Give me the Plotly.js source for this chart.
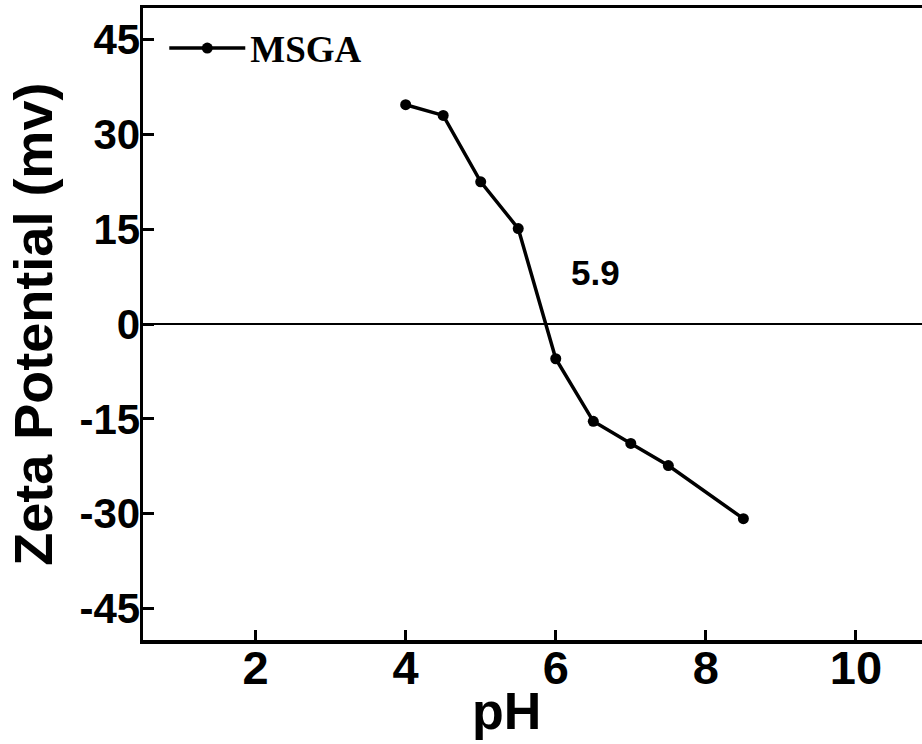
<!DOCTYPE html>
<html>
<head>
<meta charset="utf-8">
<script src="https://cdn.plot.ly/plotly-3.0.1.min.js"></script>
<style>
html,body{margin:0;padding:0;background:#fff;overflow:hidden;width:922px;height:744px;}
#chart{width:931px;height:744px;}
</style>
</head>
<body>
<div id="chart"></div>
<script>
// Data
var seriesName = "MSGA";
var pH = [4.0, 4.5, 5.0, 5.5, 6.0, 6.5, 7.0, 7.5, 8.5];
var zeta = [34.7, 33.0, 22.5, 15.1, -5.5, -15.4, -18.9, -22.4, -30.8];
var xTicks = [2, 4, 6, 8, 10];
var yTicks = [-45, -30, -15, 0, 15, 30, 45];
var pzcLabel = "5.9";
var pzcLabelPos = [6.53, 8.2];
var xTitle = "pH";
var yTitle = "Zeta Potential (mv)";

var trace = {
  x: pH, y: zeta, name: seriesName,
  type: "scatter", mode: "lines+markers",
  line: {color: "#000", width: 3.5},
  marker: {color: "#000", size: 11, symbol: "circle"}
};

var layout = {
  width: 931, height: 744,
  margin: {l: 143, r: 0, t: 8, b: 104},
  paper_bgcolor: "#fff", plot_bgcolor: "#fff",
  showlegend: true,
  legend: {
    x: 0.027, y: 0.985, xanchor: "left", yanchor: "top",
    itemwidth: 76,
    bgcolor: "rgba(0,0,0,0)",
    font: {family: "Liberation Serif", size: 37, color: "#000", weight: "bold"}
  },
  xaxis: {
    range: [0.5, 11], tickvals: xTicks, ticktext: xTicks.map(String),
    ticks: "inside", ticklen: 10, tickwidth: 3, tickcolor: "#000",
    ticklabelstandoff: -16,
    showline: true, linewidth: 3.5, linecolor: "#000", mirror: true,
    showgrid: false, zeroline: false,
    tickfont: {family: "Liberation Sans", size: 47, color: "#000", weight: "bold"}
  },
  yaxis: {
    range: [-50, 50], tickvals: yTicks, ticktext: yTicks.map(String),
    ticks: "inside", ticklen: 11, tickwidth: 3, tickcolor: "#000",
    ticklabelstandoff: -9,
    showline: true, linewidth: 3.5, linecolor: "#000", mirror: false,
    showgrid: false, zeroline: true, zerolinecolor: "#000", zerolinewidth: 2,
    tickfont: {family: "Liberation Sans", size: 42, color: "#000", weight: "bold"}
  },
  annotations: [
    {x: pzcLabelPos[0], y: pzcLabelPos[1], xref: "x", yref: "y", text: pzcLabel, showarrow: false,
     font: {family: "Liberation Sans", size: 35, color: "#000", weight: "bold"}},
    {x: 0.461, y: -0.112, xref: "paper", yref: "paper", text: xTitle, showarrow: false,
     xanchor: "center", yanchor: "middle",
     font: {family: "Liberation Sans", size: 52, color: "#000", weight: "bold"}},
    {x: -0.14, y: 0.5, xref: "paper", yref: "paper", text: yTitle, showarrow: false,
     textangle: -90, xanchor: "center", yanchor: "middle",
     font: {family: "Liberation Sans", size: 54, color: "#000", weight: "bold"}}
  ]
};

Plotly.newPlot("chart", [trace], layout, {displayModeBar: false, staticPlot: true});
</script>
</body>
</html>
